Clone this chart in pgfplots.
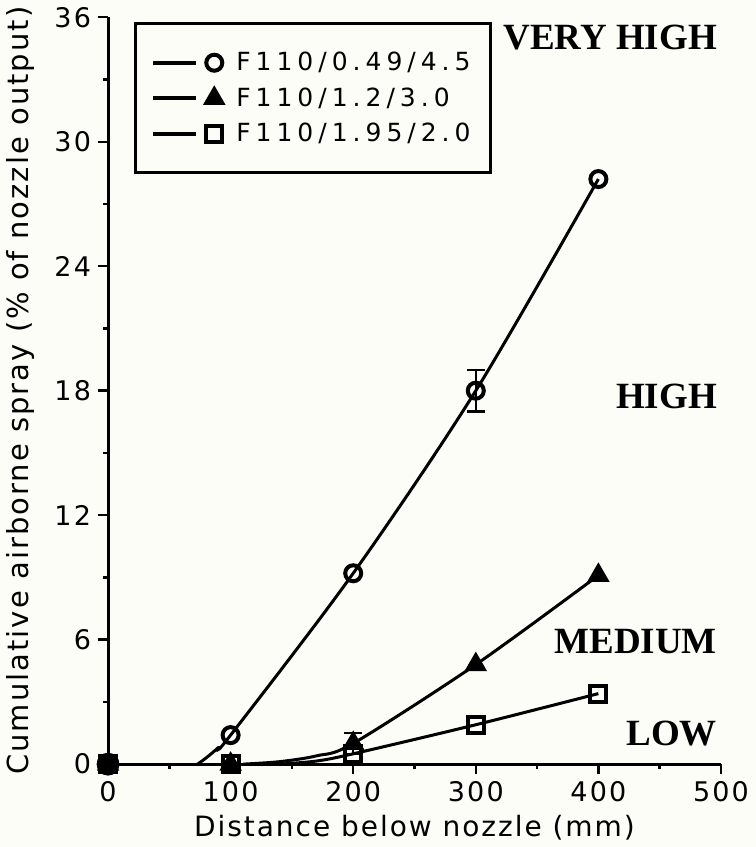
\documentclass[border=0pt]{standalone}
\usepackage{fontspec}
\setmainfont{DejaVu Sans}
\newfontfamily\tickfont{DejaVu Sans}[LetterSpace=8]
\newfontfamily\axlabfont{DejaVu Sans}[LetterSpace=7]
\newfontfamily\legfont{DejaVu Sans}[LetterSpace=20]
\newfontfamily\labfont{Liberation Serif}
\usepackage{pgfplots}
\pgfplotsset{compat=1.18}
\definecolor{bg}{HTML}{FDFDF8}
\pagecolor{bg}

\pgfplotsset{
  curve/.style={black, line width=1.5pt, mark=none, forget plot},
  pts/.style={black, only marks, line width=2pt, mark size=4pt,
    legend image code/.code={
      \draw[line width=2pt] (0pt,0pt) -- (21.5pt,0pt);
      \draw[only marks] plot coordinates {(30.5pt,0pt)};
    }},
  ebar/.style={draw=none, mark=none, forget plot,
    error bars/.cd, y dir=both, y explicit,
    error bar style={draw=black, line width=1.2pt},
    error mark options={black, rotate=90, mark size=4.5pt, line width=1.2pt}},
}
\tikzset{zone/.style={anchor=east, inner sep=0pt, font=\labfont\bfseries\fontsize{18.5}{20}\selectfont}}

\begin{document}
\begin{tikzpicture}
\begin{axis}[
  scale only axis,
  width=306.5pt, height=373.5pt,
  xmin=0, xmax=500, ymin=0, ymax=36,
  axis lines*=left,
  axis line style={line width=1.5pt},
  xtick={0,100,...,500}, ytick={0,6,...,36},
  minor x tick num=1, minor y tick num=1,
  tick align=outside,
  major tick length=5pt, minor tick length=2.5pt,
  every tick/.style={black, line width=1.2pt},
  tick label style={font=\tickfont\fontsize{13.5}{15}\selectfont},
  /pgf/number format/assume math mode=true,
  xlabel={Distance below nozzle (mm)},
  ylabel={Cumulative airborne spray (\% of nozzle output)},
  xlabel style={font=\axlabfont\fontsize{14}{16}\selectfont},
  ylabel style={font=\axlabfont\fontsize{14.5}{16}\selectfont},
  ylabel shift=3pt,
  clip=false,
  legend style={at={(0.042,0.993)}, anchor=north west,
    draw=black, line width=1.5pt, fill=none,
    font=\legfont\fontsize{12.5}{16.5}\selectfont,
    inner xsep=8pt, inner ysep=12pt, row sep=3pt, cells={anchor=west}},
]
% fitted curves
\addplot[curve] coordinates {(0,0) (73,0)};
\addplot[curve, smooth] coordinates {(73,0) (80,0.3) (90,0.8) (100,1.4) (200,9.2) (300,18.0) (400,28.2)};
\addplot[curve] coordinates {(0,0) (110,0)};
\addplot[curve, smooth] coordinates {(110,0) (140,0.12) (170,0.4) (200,1.0) (300,4.8) (400,9.1)};
\addplot[curve] coordinates {(0,0) (140,0)};
\addplot[curve, smooth] coordinates {(140,0) (170,0.15) (200,0.5) (300,1.9) (400,3.4)};

% error bars
\addplot[ebar] coordinates {(300,18.0) +- (0,1.0)};
\addplot[ebar] coordinates {(200,1.0) +- (0,0.5)};

% measured points
\addplot[pts, mark=o] coordinates {(0,0) (100,1.4) (200,9.2) (300,18.0) (400,28.2)};
\addlegendentry{\hspace{5pt}F110/0.49/4.5}
\addplot[pts, mark=triangle*, mark size=4.5pt] coordinates {(0,0) (100,0) (200,1.0) (300,4.8) (400,9.1)};
\addlegendentry{\hspace{5pt}F110/1.2/3.0}
\addplot[pts, mark=square] coordinates {(0,0) (100,0) (200,0.5) (300,1.9) (400,3.4)};
\addlegendentry{\hspace{5pt}F110/1.95/2.0}
% overlapping points at the origin
\addplot[black, only marks, mark=*, mark size=5.5pt, forget plot] coordinates {(0,0)};

\node[zone] at (axis cs:497,35.0) {VERY HIGH};
\node[zone] at (axis cs:497,17.7) {HIGH};
\node[zone] at (axis cs:497,5.9) {MEDIUM};
\node[zone] at (axis cs:497,1.5) {LOW};
\end{axis}
\end{tikzpicture}
\end{document}
